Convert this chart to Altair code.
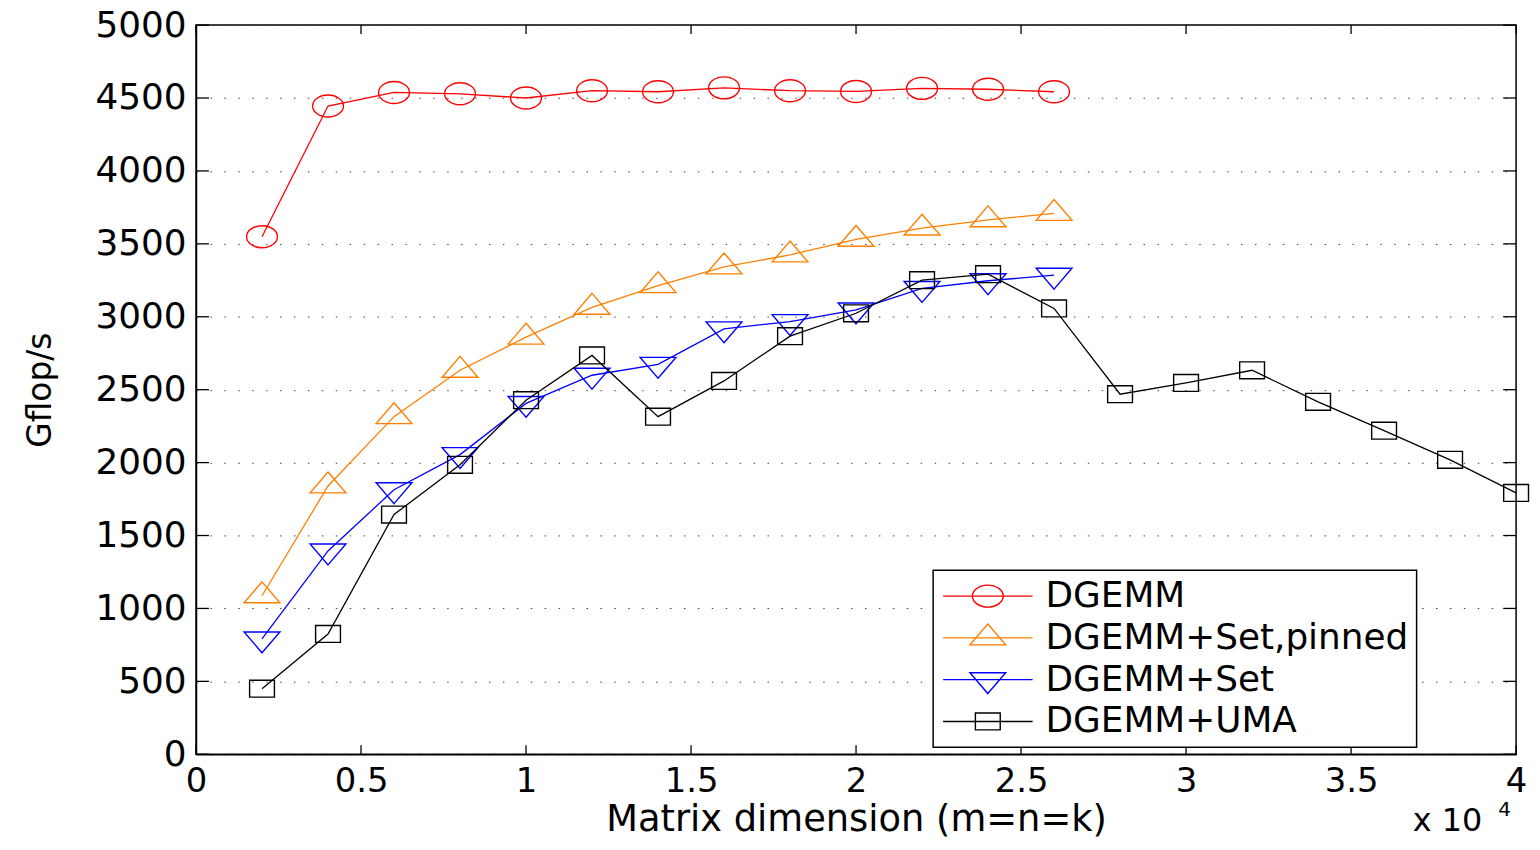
import altair as alt
import pandas as pd

# ---------------- data ----------------
SERIES = ["DGEMM", "DGEMM+Set,pinned", "DGEMM+Set", "DGEMM+UMA"]
COLORS = ["#ff0000", "#ff8000", "#0000ff", "#000000"]

N_SHORT = [2000, 4000, 6000, 8000, 10000, 12000, 14000, 16000, 18000,
           20000, 22000, 24000, 26000]
N_LONG = [2000, 4000, 6000, 8000, 10000, 12000, 14000, 16000, 18000,
          20000, 22000, 24000, 26000, 28000, 30000, 32000, 34000, 36000,
          38000, 40000]

DGEMM = [3549, 4445, 4538, 4529, 4500, 4550, 4543, 4570, 4550, 4545,
         4566, 4560, 4543]
SET_PINNED = [1087, 1840, 2315, 2633, 2860, 3065, 3213, 3342, 3424, 3531,
              3608, 3665, 3709]
SET = [791, 1394, 1814, 2055, 2406, 2599, 2674, 2917, 2967, 3047, 3194,
       3247, 3285]
UMA = [450, 825, 1644, 1985, 2428, 2735, 2315, 2560, 2867, 3024, 3251,
       3292, 3057, 2469, 2546, 2633, 2417, 2219, 2019, 1792]

X_TICKS = [0, 5000, 10000, 15000, 20000, 25000, 30000, 35000, 40000]
Y_TICKS = [0, 500, 1000, 1500, 2000, 2500, 3000, 3500, 4000, 4500, 5000]

# ---------------- marker shapes (custom SVG paths, units of sqrt(size)/2) --
def fmt(v):
    return f"{v:.3f}"

def ellipse(cx, rx, ry):
    k = 0.5523
    return (f"M{fmt(cx+rx)},0 C{fmt(cx+rx)},{fmt(ry*k)} {fmt(cx+rx*k)},{fmt(ry)} {fmt(cx)},{fmt(ry)} "
            f"C{fmt(cx-rx*k)},{fmt(ry)} {fmt(cx-rx)},{fmt(ry*k)} {fmt(cx-rx)},0 "
            f"C{fmt(cx-rx)},{fmt(-ry*k)} {fmt(cx-rx*k)},{fmt(-ry)} {fmt(cx)},{fmt(-ry)} "
            f"C{fmt(cx+rx*k)},{fmt(-ry)} {fmt(cx+rx)},{fmt(-ry*k)} {fmt(cx+rx)},0 Z")

def tri_up(cx, hw, h):
    return (f"M{fmt(cx)},{fmt(-2*h/3)} L{fmt(cx+hw)},{fmt(h/3)} "
            f"L{fmt(cx-hw)},{fmt(h/3)} Z")

def tri_down(cx, hw, h):
    return (f"M{fmt(cx)},{fmt(2*h/3)} L{fmt(cx+hw)},{fmt(-h/3)} "
            f"L{fmt(cx-hw)},{fmt(-h/3)} Z")

def square(cx, hw, hh):
    return (f"M{fmt(cx-hw)},{fmt(-hh)} L{fmt(cx+hw)},{fmt(-hh)} "
            f"L{fmt(cx+hw)},{fmt(hh)} L{fmt(cx-hw)},{fmt(hh)} Z")

def marker_paths(cx):
    return [ellipse(cx, 0.97, 0.69), tri_up(cx, 1.125, 1.31),
            tri_down(cx, 1.125, 1.31), square(cx, 0.78, 0.53)]

PLOT_SHAPES = marker_paths(0.0)
LEG_CX = 1.81
LEGEND_SHAPES = ["M-1,0 L4.625,0 " + p for p in marker_paths(LEG_CX)]
MSIZE = 1024

# ---------------- tables ----------------
frames = []
for name, xs, ys in [(SERIES[0], N_SHORT, DGEMM), (SERIES[1], N_SHORT, SET_PINNED),
                     (SERIES[2], N_SHORT, SET), (SERIES[3], N_LONG, UMA)]:
    frames.append(pd.DataFrame({"n": xs, "gflops": ys, "series": name}))
df = pd.concat(frames, ignore_index=True)

W, H = 1327, 733
FONT = "DejaVu Sans"

xscale = alt.Scale(domain=[0, 40000], nice=False, zero=False)
yscale = alt.Scale(domain=[0, 5000], nice=False, zero=False)
cscale = alt.Scale(domain=SERIES, range=COLORS)

x_axis = alt.Axis(values=X_TICKS, labelExpr="datum.value / 10000", grid=False,
                  ticks=False, labelPadding=10, labelFontSize=34, labelFlush=False,
                  labelOverlap=False, domainColor="black", domainWidth=1.5,
                  title="Matrix dimension (m=n=k)", titleFontSize=37,
                  titleY=77, titleX=W / 2, titleBaseline="alphabetic",
                  titleAlign="center")
y_axis = alt.Axis(values=Y_TICKS, format="d", grid=True, ticks=False,
                  labelPadding=10, labelFontSize=36, labelOverlap=False,
                  domainColor="black", domainWidth=1.5, gridDash=[1.5, 12.5],
                  gridColor="#444444", gridWidth=1, title="Gflop/s",
                  titleFontSize=33, titleAngle=270, titleX=-156, titleY=H / 2,
                  titleAlign="center", titleBaseline="middle")

X_ENC = alt.X("n:Q", scale=xscale, axis=x_axis)
Y_ENC = alt.Y("gflops:Q", scale=yscale, axis=y_axis)

series_layers = []
for i, name in enumerate(SERIES):
    base = alt.Chart(df).transform_filter(alt.datum.series == name)
    series_layers.append(
        base.mark_line(strokeWidth=1.3, color=COLORS[i]).encode(x=X_ENC, y=Y_ENC))
    series_layers.append(
        base.mark_point(shape=PLOT_SHAPES[i], size=MSIZE, filled=False,
                        strokeWidth=1.4, color=COLORS[i], opacity=1)
        .encode(x=X_ENC, y=Y_ENC))

leg_props = dict(orient="none", legendX=741, legendY=548, title=None,
                 labelFont=FONT, labelFontSize=36, labelColor="black",
                 labelLimit=700, labelOffset=69, symbolSize=MSIZE,
                 symbolStrokeWidth=1.4, symbolOpacity=1, rowPadding=6,
                 padding=8, strokeColor="black", fillColor="white",
                 cornerRadius=0)

legend_layer = alt.Chart(df).mark_point(filled=False, opacity=0, size=MSIZE).encode(
    x=X_ENC, y=Y_ENC,
    color=alt.Color("series:N", scale=cscale, legend=alt.Legend(**leg_props)),
    shape=alt.Shape("series:N", scale=alt.Scale(domain=SERIES, range=LEGEND_SHAPES),
                    legend=alt.Legend(**leg_props)),
)

ydf = pd.DataFrame({"gflops": Y_TICKS})
xdf = pd.DataFrame({"n": X_TICKS})
tick_style = dict(color="black", strokeWidth=1.3)
ticks_left = alt.Chart(ydf).mark_rule(**tick_style).encode(
    y=Y_ENC, x=alt.value(0), x2=alt.value(13))
ticks_right = alt.Chart(ydf).mark_rule(**tick_style).encode(
    y=Y_ENC, x=alt.value(W - 13), x2=alt.value(W))
ticks_bottom = alt.Chart(xdf).mark_rule(**tick_style).encode(
    x=X_ENC, y=alt.value(H - 9), y2=alt.value(H))
ticks_top = alt.Chart(xdf).mark_rule(**tick_style).encode(
    x=X_ENC, y=alt.value(0), y2=alt.value(9))

exp_df = pd.DataFrame({"base": ["x 10"], "exp": ["4"]})
exp_base = alt.Chart(exp_df).mark_text(font=FONT, fontSize=32, align="right",
                                       baseline="alphabetic", color="black").encode(
    text="base:N", x=alt.value(1293), y=alt.value(810))
exp_pow = alt.Chart(exp_df).mark_text(font=FONT, fontSize=20, align="left",
                                      baseline="alphabetic", color="black").encode(
    text="exp:N", x=alt.value(1309), y=alt.value(795))

chart = alt.layer(
    *series_layers, legend_layer,
    ticks_left, ticks_right, ticks_bottom, ticks_top, exp_base, exp_pow,
).properties(
    width=W, height=H, autosize="none",
    padding={"left": 189, "top": 15, "right": 16, "bottom": 86},
).configure_view(
    stroke="black", strokeWidth=1.5
).configure_axis(
    labelFont=FONT, titleFont=FONT, labelColor="black", titleColor="black",
    titleFontWeight="normal"
).configure_legend(
    strokeWidth=1.5
)

chart.save("out.html", embed_options={"renderer": "svg", "actions": False})
